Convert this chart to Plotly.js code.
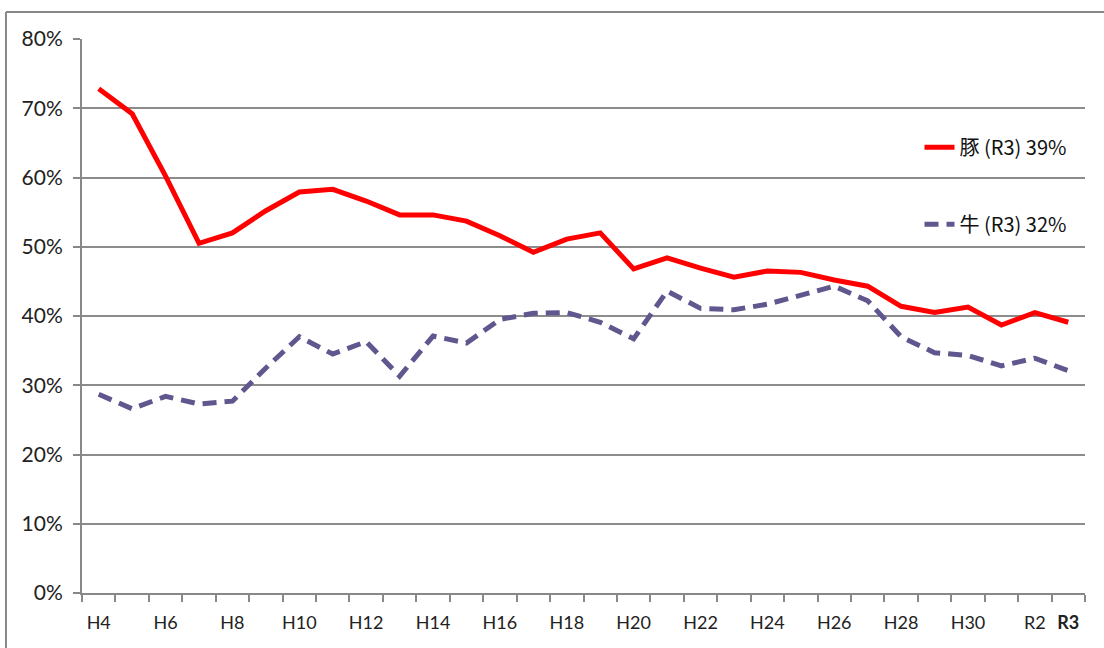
<!DOCTYPE html>
<html>
<head>
<meta charset="utf-8">
<script src="https://cdn.plot.ly/plotly-3.0.1.min.js"></script>
<style>html,body{margin:0;padding:0;background:#fff;}#chart{width:1104px;height:648px;}</style>
</head>
<body>
<div id="chart"></div>
<script>
const categories = ['H4','H5','H6','H7','H8','H9','H10','H11','H12','H13','H14','H15','H16','H17','H18','H19','H20','H21','H22','H23','H24','H25','H26','H27','H28','H29','H30','R1','R2','R3'];
const tickLabels = ['H4','','H6','','H8','','H10','','H12','','H14','','H16','','H18','','H20','','H22','','H24','','H26','','H28','','H30','','R2','<b>R3</b>'];
const pork = [72.8,69.2,60.2,50.5,52.0,55.2,57.9,58.3,56.6,54.6,54.6,53.7,51.6,49.2,51.1,52.0,46.8,48.4,46.9,45.6,46.5,46.3,45.2,44.3,41.4,40.5,41.3,38.7,40.5,39.1];
const beef = [28.7,26.6,28.4,27.3,27.7,32.5,37.0,34.5,36.3,31.3,37.1,36.1,39.5,40.4,40.5,39.1,36.7,43.6,41.1,40.9,41.7,43.0,44.3,42.2,37.0,34.7,34.3,32.8,33.9,32.1];
const porkName = '豚 (R3) 39%';
const beefName = '牛 (R3) 32%';
const yTicks = [0,10,20,30,40,50,60,70,80];
const yTickLabels = ['0%','10%','20%','30%','40%','50%','60%','70%','80%'];

const traces = [
  {x: categories, y: pork, type: 'scatter', mode: 'lines', name: porkName, legendgroup: 'a',
   line: {color: '#ff0000', width: 5}},
  {x: categories, y: beef, type: 'scatter', mode: 'lines', name: beefName, legendgroup: 'b',
   line: {color: '#61568e', width: 5, dash: '14px,8px'}}
];

const layout = {
  width: 1104, height: 648,
  margin: {l: 82, r: 19, t: 39, b: 55},
  paper_bgcolor: '#ffffff', plot_bgcolor: '#ffffff',
  showlegend: true,
  legend: {x: 0.835, y: 0.84, xanchor: 'left', yanchor: 'top', bgcolor: 'rgba(0,0,0,0)',
           traceorder: 'grouped', tracegroupgap: 48,
           font: {family: '"Liberation Sans Narrow", "Noto Sans CJK JP", sans-serif', size: 20, color: '#111'}},
  xaxis: {type: 'category', tickmode: 'array', tickvals: categories, ticktext: tickLabels, tickangle: 0,
          tickson: 'boundaries', ticks: 'outside', ticklen: 7, tickwidth: 2, tickcolor: '#888',
          showline: true, linecolor: '#888', linewidth: 2, showgrid: false, zeroline: false,
          range: [-0.5, 29.5], ticklabelstandoff: 12,
          tickfont: {family: 'Lato, "Liberation Sans", sans-serif', size: 18, color: '#222'}},
  yaxis: {range: [0, 80], tickmode: 'array', tickvals: yTicks, ticktext: yTickLabels,
          ticks: 'outside', ticklen: 7, tickwidth: 2, tickcolor: '#888',
          showline: true, linecolor: '#888', linewidth: 2,
          showgrid: true, gridcolor: '#8c8c8c', gridwidth: 2, zeroline: false, ticklabelstandoff: 6,
          tickfont: {family: 'Lato, "Liberation Sans", sans-serif', size: 21, color: '#222'}},
  shapes: [
    {type: 'line', xref: 'paper', yref: 'paper', x0: -0.0758, x1: 1.03, y0: 1.0487, y1: 1.0487,
     line: {color: '#888', width: 2}},
    {type: 'line', xref: 'paper', yref: 'paper', x0: -0.0758, x1: -0.0758, y0: -0.11, y1: 1.0487,
     line: {color: '#888', width: 2}}
  ]
};

Plotly.newPlot('chart', traces, layout, {displayModeBar: false, staticPlot: true});
</script>
</body>
</html>
